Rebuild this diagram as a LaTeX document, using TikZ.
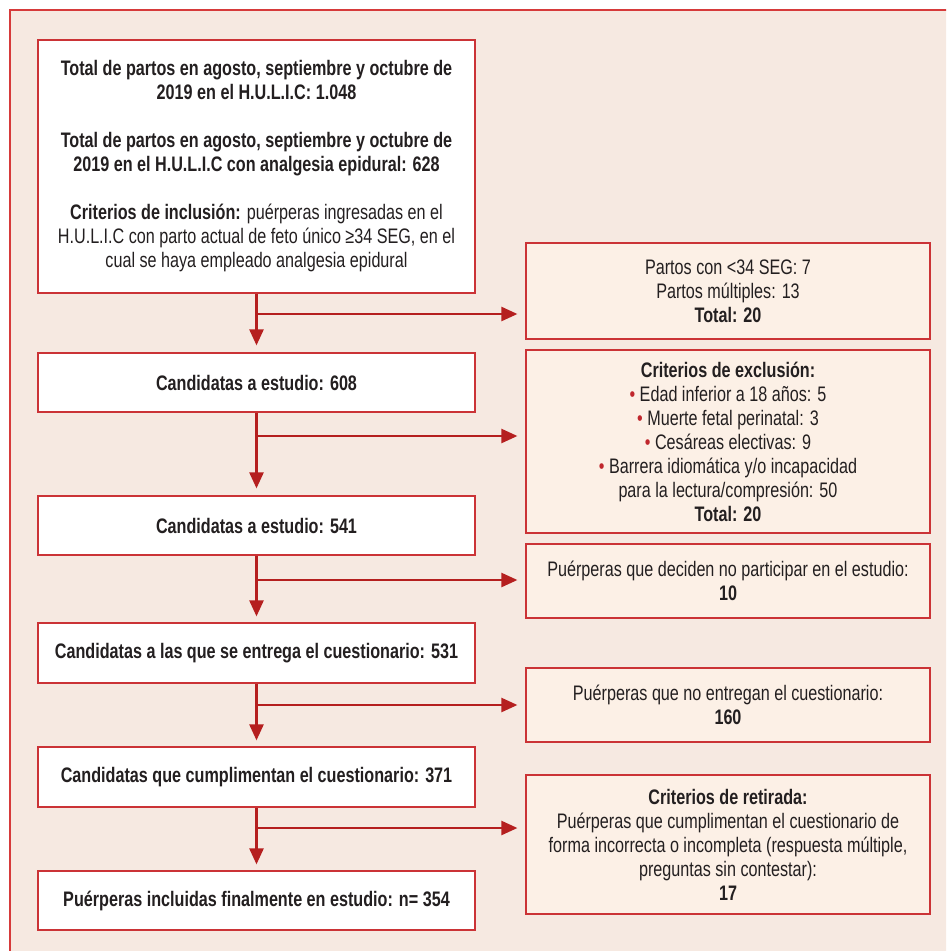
\documentclass[tikz,border=0pt]{standalone}
\usepackage{fontspec}
\setmainfont{Liberation Sans}[FakeStretch=0.77]
\usetikzlibrary{arrows.meta}
\definecolor{bgpink}{HTML}{F6E9E1}
\definecolor{rfill}{HTML}{FCF0E6}
\definecolor{framered}{HTML}{D63A3A}
\definecolor{boxred}{HTML}{CB3336}
\definecolor{arrred}{HTML}{B51F1F}
\definecolor{txt}{HTML}{231F20}
\definecolor{bulred}{HTML}{C0272D}
\newcommand{\bul}{{\color{bulred}\textbullet}~}
\tikzset{
  basebox/.style={draw=boxred, line width=1.2pt, align=center, inner sep=0pt,
    text=txt, font=\fontsize{21}{24}\selectfont},
  lbox/.style={basebox, fill=white, minimum width=437pt},
  rbox/.style={basebox, fill=rfill, minimum width=404pt},
  arr/.style={draw=arrred, line width=2.4pt,
    -{Triangle[length=16pt,width=14pt]}},
  seg/.style={draw=arrred, line width=2.4pt}
}
\begin{document}
\begin{tikzpicture}[x=1pt,y=-1pt]
\useasboundingbox (0,0) rectangle (946,951);
\begin{scope}
\clip (0,0) rectangle (946,951);
\fill[white] (0,0) rectangle (946,951);
\draw[framered, fill=bgpink, line width=1.4pt] (10,10) rectangle (980,980);
\end{scope}

% left column
\node[lbox, minimum height=253pt] (b1) at (256.5,166.5) {%
\textbf{Total de partos en agosto, septiembre y octubre de}\\
\textbf{2019 en el H.U.L.I.C: 1.048}\\[24pt]
\textbf{Total de partos en agosto, septiembre y octubre de}\\
\textbf{2019 en el H.U.L.I.C con analgesia epidural: 628}\\[24pt]
\textbf{Criterios de inclusión:} puérperas ingresadas en el\\
H.U.L.I.C con parto actual de feto único ≥34 SEG, en el\\
cual se haya empleado analgesia epidural};
\node[lbox, minimum height=59pt] (b2) at (256.5,382.5) {\textbf{Candidatas a estudio: 608}};
\node[lbox, minimum height=59pt] (b3) at (256.5,525.5) {\textbf{Candidatas a estudio: 541}};
\node[lbox, minimum height=60pt] (b4) at (256.5,653) {\textbf{Candidatas a las que se entrega el cuestionario: 531}};
\node[lbox, minimum height=60pt] (b5) at (256.5,777) {\textbf{Candidatas que cumplimentan el cuestionario: 371}};
\node[lbox, minimum height=59pt] (b6) at (256.5,900.5) {\textbf{Puérperas incluidas finalmente en estudio: n= 354}};

% right column
\node[rbox, minimum height=96pt] (r1) at (728,291) {%
Partos con <34 SEG: 7\\
Partos múltiples: 13\\
\textbf{Total: 20}};
\node[rbox, minimum height=183pt] (r2) at (728,441.5) {%
\textbf{Criterios de exclusión:}\\
\bul Edad inferior a 18 años: 5\\
\bul Muerte fetal perinatal: 3\\
\bul Cesáreas electivas: 9\\
\bul Barrera idiomática y/o incapacidad\\
para la lectura/compresión: 50\\
\textbf{Total: 20}};
\node[rbox, minimum height=74pt] (r3) at (728,581) {%
Puérperas que deciden no participar en el estudio:\\
\textbf{10}};
\node[rbox, minimum height=74pt] (r4) at (728,705) {%
Puérperas que no entregan el cuestionario:\\
\textbf{160}};
\node[rbox, minimum height=139pt] (r5) at (728,844.5) {%
\textbf{Criterios de retirada:}\\
Puérperas que cumplimentan el cuestionario de\\
forma incorrecta o incompleta (respuesta múltiple,\\
preguntas sin contestar):\\
\textbf{17}};

% junctions
\coordinate (j1) at (256.5,314);
\coordinate (j2) at (256.5,436);
\coordinate (j3) at (256.5,580);
\coordinate (j4) at (256.5,705);
\coordinate (j5) at (256.5,828);

% vertical arrows
\draw[arr, shorten >=7pt] (b1.south) -- (b2.north);
\draw[arr, shorten >=7pt] (b2.south) -- (b3.north);
\draw[arr, shorten >=6pt] (b3.south) -- (b4.north);
\draw[arr, shorten >=6pt] (b4.south) -- (b5.north);
\draw[arr, shorten >=6pt] (b5.south) -- (b6.north);

% side arrows
\draw[arr, shorten >=8pt] (j1) -- (j1 -| r1.west);
\draw[arr, shorten >=8pt] (j2) -- (j2 -| r2.west);
\draw[arr, shorten >=8pt] (j3) -- (j3 -| r3.west);
\draw[arr, shorten >=8pt] (j4) -- (j4 -| r4.west);
\draw[arr, shorten >=8pt] (j5) -- (j5 -| r5.west);
\end{tikzpicture}
\end{document}
